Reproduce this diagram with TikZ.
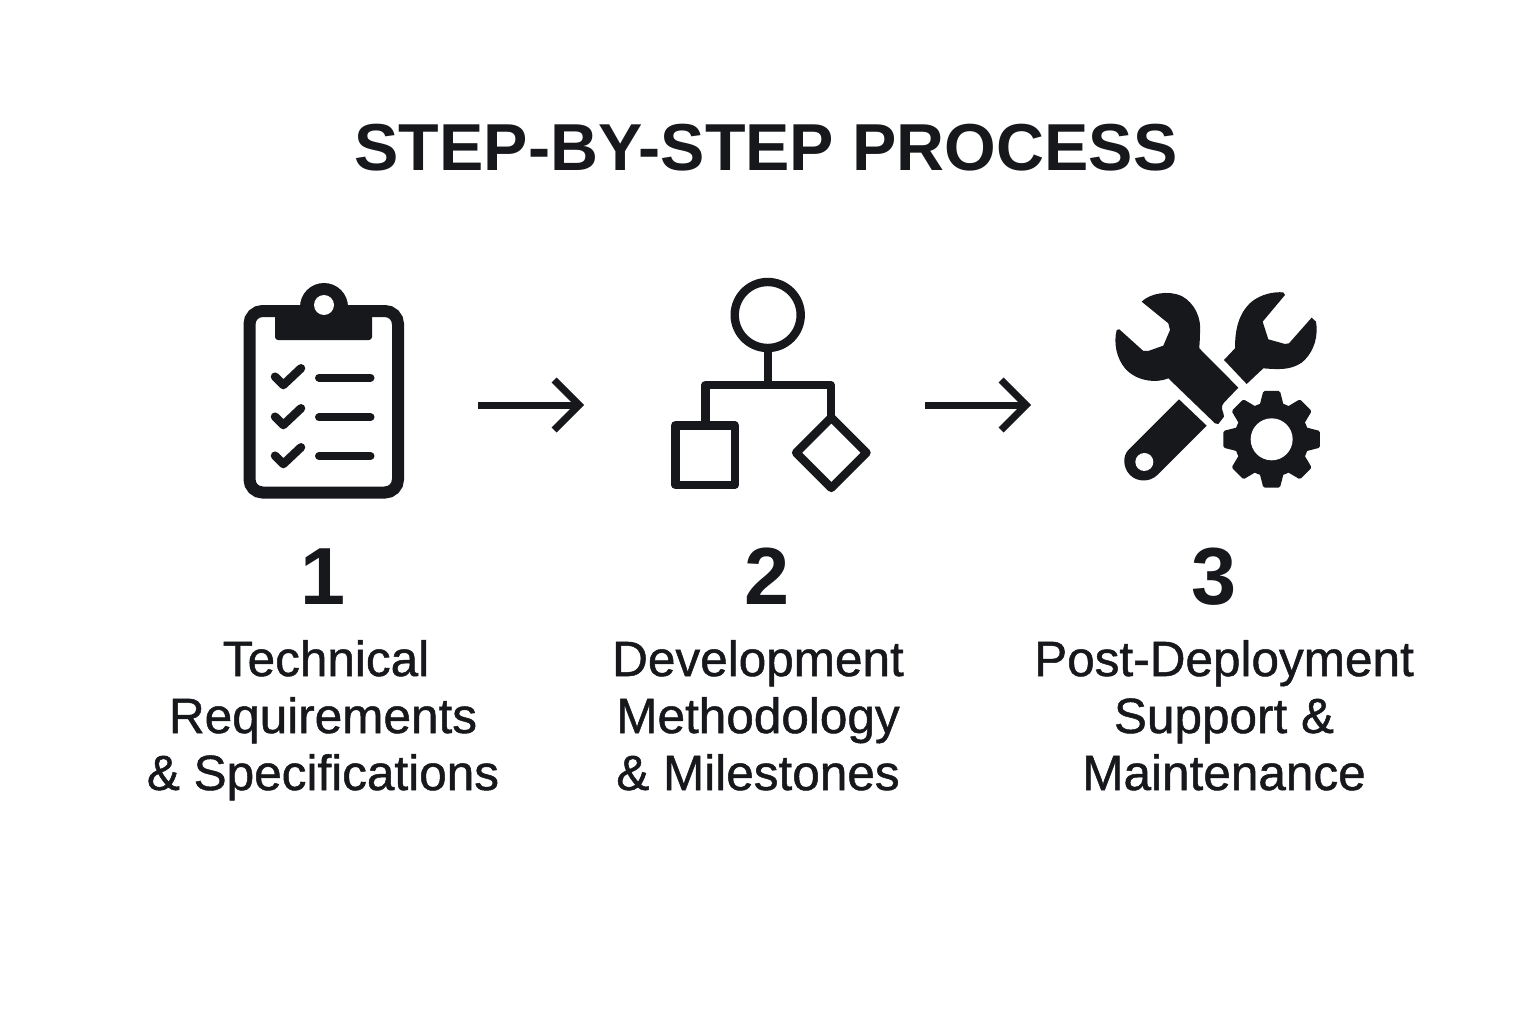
\documentclass[tikz,border=0pt]{standalone}
\usepackage{fontspec}
\usetikzlibrary{arrows.meta}
\setmainfont{Liberation Sans}
\newfontfamily\labfont[FakeBold=1]{Liberation Sans}
\definecolor{ink}{HTML}{16181C}
\tikzset{
  x=1pt,y=-1pt,
  titletext/.style={text=ink,inner sep=0,anchor=base,font=\fontsize{66.4}{66}\selectfont\bfseries},
  numtext/.style={text=ink,inner sep=0,anchor=base,font=\fontsize{81}{81}\selectfont\bfseries},
  labeltext/.style={text=ink,inner sep=0,anchor=base,align=center,font=\fontsize{49.5}{57}\selectfont\labfont},
  slot/.style={inner sep=0,minimum height=2pt,outer sep=0},
  flow/.style={draw=ink,line width=7pt,-{Straight Barb[length=25pt,width=50pt]}},
  iconline/.style={draw=ink,line width=8.4pt},
  checkmark/.style={draw=ink,line width=8.5pt,line cap=round,line join=round},
  dash line/.style={draw=ink,line width=8pt,line cap=round},
  zoomed/.style={shift={(1100,280)},x=0.3333pt,y=-0.3333pt}
}
\begin{document}
\begin{tikzpicture}
\useasboundingbox (0,0) rectangle (1536,1024);
\fill[white] (0,0) rectangle (1536,1024);

\node[titletext] (title) at (766,171) {STEP-BY-STEP PROCESS};

% invisible slots between which the arrows run
\node[slot,minimum width=235pt] (icon1) at (360.5,405) {};
\node[slot,minimum width=341pt] (icon2) at (754.5,405) {};
\node[slot,minimum width=291pt] (icon3) at (1176.5,405) {};
\draw[flow] (icon1.east) -- (icon2.west);
\draw[flow] (icon2.east) -- (icon3.west);

% clipboard
\draw[ink,line width=12pt,rounded corners=13pt] (249.5,311) rectangle (398,492.5);
\fill[ink,rounded corners=3pt] (275,312) rectangle (372,340);
\fill[ink] (275,305) rectangle (372,325);
\fill[ink] (324,307) circle[radius=24];
\fill[white] (324,305) circle[radius=10];
\foreach \yy/\ly in {0/377.7,40/417.3,79/456}{
  \draw[checkmark] (275,{376.7+\yy}) -- (283.3,{385+\yy}) -- (301,{368.3+\yy});
  \draw[dash line] (319,\ly) -- (370.5,\ly);
}

% flow chart
\draw[iconline] (767.7,315) circle[radius=33];
\draw[iconline] (767.7,348) -- (767.7,385);
\draw[iconline,line join=round] (705.3,425) -- (705.3,385) -- (830.7,385) -- (830.7,418);
\draw[iconline,line join=round] (675.3,425.3) rectangle (734.8,484.8);
\draw[iconline,line join=round] (831.3,417.5) -- (866.5,452.7) -- (831.3,487.9) -- (796.1,452.7) -- cycle;

% tools
\begin{scope}[zoomed]
\fill[ink] (125,65) .. controls (150,40) and (205,30) .. (245,48)
  .. controls (285,70) and (305,115) .. (300,160)
  .. controls (300,180) and (298,195) .. (298,205)
  -- (415,323) -- (372,368)
  .. controls (358,385) and (372,395) .. (372,410)
  -- (355,432) -- (345,430) -- (205,295)
  .. controls (170,310) and (110,305) .. (75,265)
  .. controls (50,235) and (40,190) .. (50,150)
  -- (58,148) -- (130,213) -- (145,213) -- (190,197) -- (210,150) -- (205,130) -- cycle;
\fill[ink] (237,358) -- (320,437) -- (172,585)
  .. controls (150,607) and (112,607) .. (90,585)
  .. controls (68,562) and (68,528) .. (85,510) -- cycle;
\fill[white] (133,546) circle[radius=27];
\fill[ink] (372,240) -- (405,205)
  .. controls (405,150) and (415,100) .. (455,65)
  .. controls (485,42) and (520,35) .. (550,37)
  -- (555,45) -- (488,125) -- (505,178) -- (555,192) -- (567,190) -- (635,113) -- (648,125)
  .. controls (655,165) and (645,215) .. (605,248)
  .. controls (570,272) and (530,268) .. (490,265)
  -- (440,312) -- cycle;
\fill[ink] (515,478) circle[radius=112];
\foreach \a in {0,45,...,315}{
  \fill[ink,rotate around={\a:(515,478)},rounded corners=1.5pt]
    (478,380) -- (490,333) -- (540,333) -- (552,380) -- cycle;
}
\fill[white] (515,478) circle[radius=63];
\end{scope}

% numbers
\node[numtext] (n1) at (323,604) {1};
\node[numtext] (n2) at (767,604) {2};
\node[numtext] (n3) at (1214,604) {3};

% labels
\node[labeltext] (l1) at (323,790) {\hspace*{6pt}Technical\\Requirements\hspace*{6pt}\\\& Specifications};
\node[labeltext] (l2) at (758,790) {Development\\Methodology\\\& Milestones};
\node[labeltext] (l3) at (1224,790) {Post-Deployment\\Support \&\hspace*{6pt}\\Maintenance};
\end{tikzpicture}
\end{document}
